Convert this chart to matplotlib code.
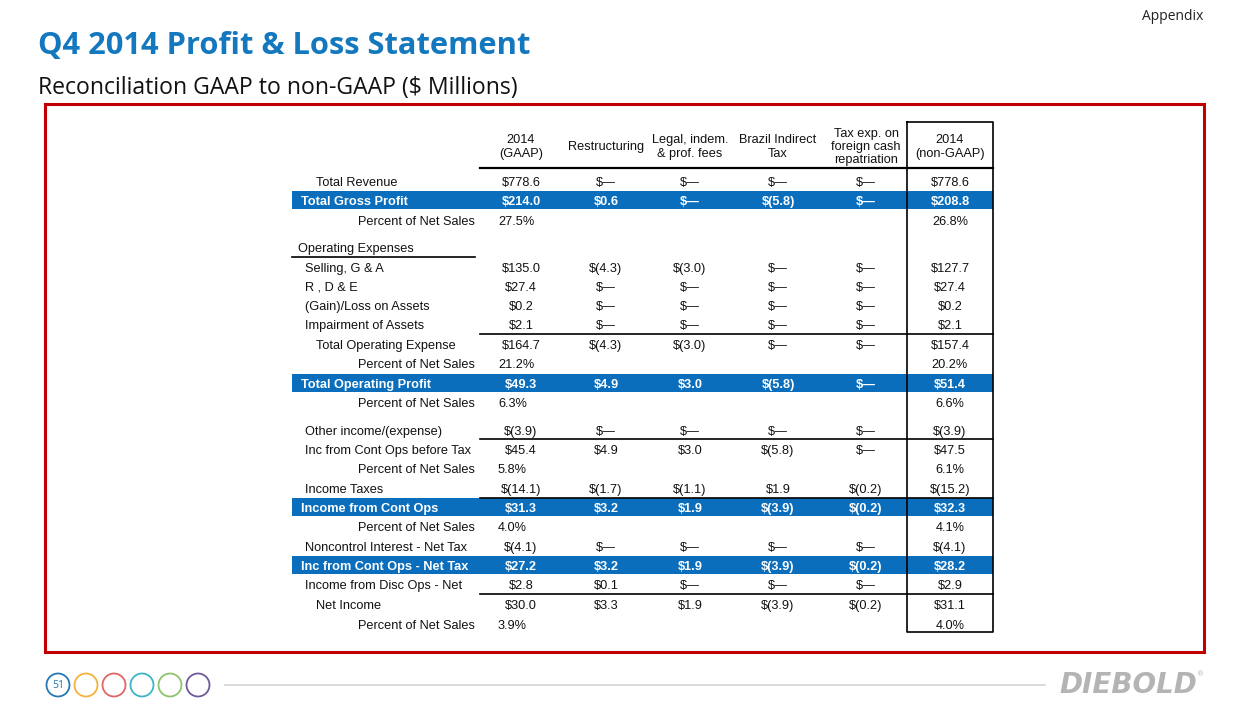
import matplotlib
matplotlib.use("Agg")
import matplotlib.pyplot as plt
from matplotlib.patches import Rectangle, Circle

# ---------------- data ----------------
title = "Q4 2014 Profit & Loss Statement"
subtitle = "Reconciliation GAAP to non-GAAP ($ Millions)"
col_headers = ["2014\n(GAAP)", "Restructuring", "Legal, indem.\n& prof. fees",
               "Brazil Indirect\nTax", "Tax exp. on\nforeign cash\nrepatriation",
               "2014\n(non-GAAP)"]
row_labels = ["Total Revenue", "Total Gross Profit", "Percent of Net Sales",
              "Operating Expenses", "Selling, G & A", "R , D & E",
              "(Gain)/Loss on Assets", "Impairment of Assets",
              "Total Operating Expense", "Percent of Net Sales",
              "Total Operating Profit", "Percent of Net Sales",
              "Other income/(expense)", "Inc from Cont Ops before Tax",
              "Percent of Net Sales", "Income Taxes", "Income from Cont Ops",
              "Percent of Net Sales", "Noncontrol Interest - Net Tax",
              "Inc from Cont Ops - Net Tax", "Income from Disc Ops - Net",
              "Net Income", "Percent of Net Sales"]
D = "$\u2014"
gaap = ["$778.6", "$214.0", "27.5%", "", "$135.0", "$27.4", "$0.2", "$2.1",
        "$164.7", "21.2%", "$49.3", "6.3%", "$(3.9)", "$45.4", "5.8%",
        "$(14.1)", "$31.3", "4.0%", "$(4.1)", "$27.2", "$2.8", "$30.0", "3.9%"]
restructuring = [D, "$0.6", "", "", "$(4.3)", D, D, D, "$(4.3)", "", "$4.9", "",
                 D, "$4.9", "", "$(1.7)", "$3.2", "", D, "$3.2", "$0.1", "$3.3", ""]
legal = [D, D, "", "", "$(3.0)", D, D, D, "$(3.0)", "", "$3.0", "",
         D, "$3.0", "", "$(1.1)", "$1.9", "", D, "$1.9", D, "$1.9", ""]
brazil = [D, "$(5.8)", "", "", D, D, D, D, D, "", "$(5.8)", "",
          D, "$(5.8)", "", "$1.9", "$(3.9)", "", D, "$(3.9)", D, "$(3.9)", ""]
tax_exp = [D, D, "", "", D, D, D, D, D, "", D, "",
           D, D, "", "$(0.2)", "$(0.2)", "", D, "$(0.2)", D, "$(0.2)", ""]
non_gaap = ["$778.6", "$208.8", "26.8%", "", "$127.7", "$27.4", "$0.2", "$2.1",
            "$157.4", "20.2%", "$51.4", "6.6%", "$(3.9)", "$47.5", "6.1%",
            "$(15.2)", "$32.3", "4.1%", "$(4.1)", "$28.2", "$2.9", "$31.1", "4.0%"]
columns = [gaap, restructuring, legal, brazil, tax_exp, non_gaap]

# ---------------- layout ----------------
row_y = [181, 200, 220, 247, 267, 286, 305, 324, 344, 363, 383, 402, 430, 449,
         468, 488, 507, 526, 546, 565, 584, 604, 624]
band_rows = {1, 10, 16, 19}
pct_rows = {i for i, l in enumerate(row_labels) if l.startswith("Percent")}
label_x = {0: 316, 1: 301, 3: 298, 8: 316, 10: 301, 16: 301, 19: 301, 21: 316}
col_x = [521, 606, 690, 778, 866, 950]
rule_y = [334, 439, 497.5, 594]

BLUE = "#0A6EBD"
TFONT = ["Liberation Sans", "DejaVu Sans"]
FS = 9.2
SEG = ["Open Sans", "DejaVu Sans"]
BOFF = 4.6  # baseline offset below row centre, px

fig = plt.figure(figsize=(12.48, 7.2), dpi=100)
ax = fig.add_axes([0, 0, 1, 1])
ax.set_xlim(0, 1248)
ax.set_ylim(720, 0)
ax.axis("off")

# titles
ax.text(38, 46, title, fontsize=22.2, fontweight="bold", color="#1478BE",
        family=SEG, va="center", ha="left")
ax.text(38, 88, subtitle, fontsize=16.6, color="#111111", family=SEG,
        va="center", ha="left")
ax.text(1203, 17, "Appendix", fontsize=10, color="#222222", family=SEG,
        va="center", ha="right")

# red frame
ax.add_patch(Rectangle((45, 104), 1159, 548, fill=False, edgecolor="#C00000",
                       linewidth=2.2))

# column headers
for x, h in zip(col_x, col_headers):
    ax.text(x, 147, h, fontsize=FS, family=TFONT, ha="center", va="center",
            linespacing=1.15, color="#111111")
ax.plot([480, 993], [168, 168], color="black", lw=1.6)

# bands
for r in band_rows:
    ax.add_patch(Rectangle((292, row_y[r] - 9), 701, 18, facecolor=BLUE,
                           edgecolor="none"))

# rows
for r, lab in enumerate(row_labels):
    y = row_y[r] + BOFF
    band = r in band_rows
    tc = "white" if band else "#111111"
    fw = "bold" if band else "normal"
    if r in pct_rows:
        ax.text(475, y, lab, fontsize=FS, family=TFONT, ha="right",
                va="baseline", color=tc, fontweight=fw)
    else:
        ax.text(label_x.get(r, 305), y, lab, fontsize=FS, family=TFONT,
                ha="left", va="baseline", color=tc, fontweight=fw)
    for c, (x, col) in enumerate(zip(col_x, columns)):
        v = col[r]
        if not v:
            continue
        if r in pct_rows and c == 0:
            ax.text(498, y, v, fontsize=FS, family=TFONT, ha="left",
                    va="baseline", color=tc, fontweight=fw)
        else:
            ax.text(x, y, v, fontsize=FS, family=TFONT, ha="center",
                    va="baseline", color=tc, fontweight=fw)

# rules
ax.plot([292, 475], [257, 257], color="black", lw=1.2)
for y in rule_y:
    ax.plot([480, 993], [y, y], color="black", lw=1.2)

# non-GAAP box
ax.plot([907, 993, 993, 907, 907], [122, 122, 632, 632, 122], color="black",
        lw=1.2)

# footer circles
circ_colors = ["#2479B5", "#F0B43C", "#E06666", "#3CB4C8", "#8CC46E", "#6E5A9B"]
for i, cc in enumerate(circ_colors):
    ax.add_patch(Circle((58 + 28 * i, 685), 11.5, fill=False, edgecolor=cc,
                        lw=1.3))
ax.text(58, 685, "51", fontsize=7.5, color="#2479B5", ha="center",
        va="center", family=SEG)
ax.plot([225, 1045], [685, 685], color="#D4D4D4", lw=1.2)

# logo
ax.text(1128, 685, "DIEBOLD", fontsize=20, fontweight="heavy", style="italic",
        color="#B4B4B4", ha="center", va="center", family=["DejaVu Sans"])
ax.text(1201, 674, "\u00ae", fontsize=5, color="#B4B4B4", ha="center",
        va="center")

fig.savefig("out.png", dpi=100)
